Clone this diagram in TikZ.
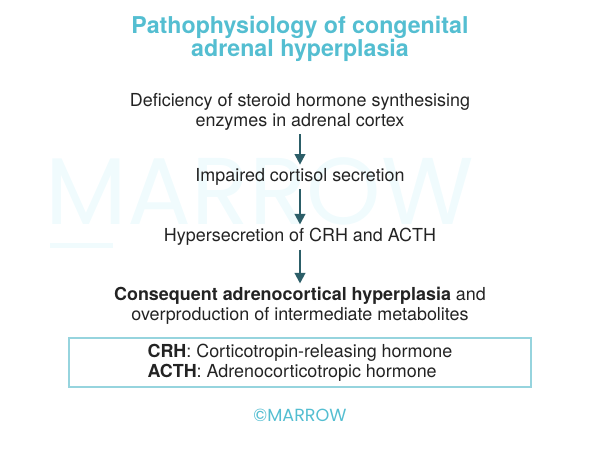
\documentclass[tikz,border=0pt]{standalone}
\usepackage{fontspec}
\setmainfont{TeX Gyre Heros}
\newfontfamily\markfont{Poppins}
\usepackage{tikz}
\usetikzlibrary{positioning,arrows.meta}
\definecolor{titlecyan}{RGB}{84,190,209}
\definecolor{arrowteal}{RGB}{44,94,104}
\definecolor{boxcyan}{RGB}{150,212,222}
\definecolor{markcyan}{RGB}{240,251,253}
\definecolor{bodygray}{RGB}{35,35,35}
\tikzset{
  title/.style={font=\fontsize{13.2}{13}\selectfont\bfseries, text=titlecyan, align=center},
  stepnode/.style={font=\fontsize{10.2}{11.4}\selectfont, text=bodygray, align=center, inner sep=2pt},
  flow/.style={-{Triangle[width=6pt,length=6pt]}, draw=arrowteal, line width=1.2pt},
  keybox/.style={draw=boxcyan, line width=0.6pt, minimum width=9.24cm, minimum height=0.98cm, inner sep=0pt},
  keytext/.style={font=\fontsize{10.2}{11.4}\selectfont, text=bodygray, align=left},
}

\begin{document}
\begin{tikzpicture}
  \useasboundingbox (0,0) rectangle (12,9);
  % watermark
  \node[text=markcyan, font=\markfont\fontsize{54}{54}\selectfont] (mark) at (5.2,5.18) {MARROW};
  \fill[markcyan] (1.0,4.04) rectangle (2.26,4.14);

  \node[title] (head) at (6,8.22) {Pathophysiology of congenital\\adrenal hyperplasia};

  \node[stepnode] (s1) at (6,6.76) {Deficiency of steroid hormone synthesising\\enzymes in adrenal cortex};
  \node[stepnode] (s2) at (6,5.46) {Impaired cortisol secretion};
  \node[stepnode] (s3) at (6,4.26) {Hypersecretion of CRH and ACTH};
  \node[stepnode] (s4) at (6,2.88) {\textbf{Consequent adrenocortical hyperplasia} and\\overproduction of intermediate metabolites};

  \draw[flow] (s1) -- (s2);
  \draw[flow] (s2) -- (s3);
  \draw[flow] (s3) -- (s4);

  \node[keybox] (key) at (6,1.75) {};
  \node[keytext] (keys) at (key.center) {\textbf{CRH}: Corticotropin-releasing hormone\\\textbf{ACTH}: Adrenocorticotropic hormone};

  \node[text=titlecyan, font=\markfont\fontsize{10}{10}\selectfont] (foot) at (6,0.70) {©MARROW};
\end{tikzpicture}
\end{document}
